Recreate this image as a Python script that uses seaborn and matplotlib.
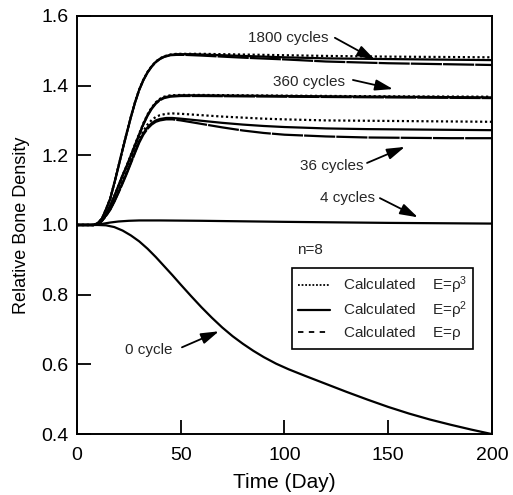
import numpy as np
import pandas as pd
import seaborn as sns
import matplotlib.pyplot as plt
from matplotlib.lines import Line2D

# ---------------- data ----------------
t_zero = [0, 10, 14, 18, 22, 26, 30, 34, 38, 42, 46, 50, 55, 60, 65, 70, 75, 80, 85, 90,
          96, 102, 110, 120, 130, 140, 150, 160, 170, 180, 190, 200]
zero_cycle = [1.0, 1.0, 0.999, 0.994, 0.984, 0.97, 0.953, 0.932, 0.908, 0.882, 0.856,
              0.829, 0.796, 0.764, 0.734, 0.706, 0.681, 0.659, 0.639, 0.621, 0.602, 0.586,
              0.567, 0.544, 0.521, 0.499, 0.478, 0.459, 0.442, 0.427, 0.413, 0.40]

t_four = [0, 8, 12, 16, 20, 25, 30, 40, 60, 100, 150, 200]
four_cycles = [1.0, 1.0, 1.003, 1.007, 1.010, 1.012, 1.013, 1.013, 1.012, 1.009, 1.006, 1.004]

t_36 = [0, 8, 10, 12, 14, 16, 18, 20, 22, 24, 26, 28, 30, 32, 34, 36, 38, 40, 43, 46, 50,
        60, 70, 80, 90, 100, 120, 140, 160, 180, 200]
c36_rho3 = [1.0, 1.0, 1.003, 1.012, 1.027, 1.045, 1.069, 1.096, 1.125, 1.154, 1.185, 1.216,
            1.246, 1.27, 1.288, 1.301, 1.310, 1.315, 1.319, 1.320, 1.319, 1.315, 1.311,
            1.308, 1.305, 1.303, 1.300, 1.299, 1.298, 1.297, 1.296]
c36_rho2 = [1.0, 1.0, 1.003, 1.012, 1.027, 1.045, 1.068, 1.094, 1.122, 1.150, 1.180, 1.210,
            1.240, 1.263, 1.280, 1.292, 1.300, 1.304, 1.307, 1.307, 1.305, 1.299, 1.293,
            1.288, 1.284, 1.281, 1.277, 1.275, 1.274, 1.273, 1.272]
c36_rho1 = [1.0, 1.0, 1.003, 1.011, 1.026, 1.043, 1.066, 1.092, 1.119, 1.147, 1.177, 1.207,
            1.236, 1.259, 1.276, 1.288, 1.296, 1.300, 1.303, 1.303, 1.300, 1.290, 1.280,
            1.271, 1.264, 1.259, 1.254, 1.251, 1.250, 1.249, 1.249]

t_360 = [0, 8, 10, 12, 14, 16, 18, 20, 22, 24, 26, 28, 30, 32, 34, 36, 38, 40, 42, 45, 50,
         60, 80, 100, 150, 200]
c360_rho3 = [1.0, 1.0, 1.003, 1.012, 1.030, 1.055, 1.083, 1.113, 1.143, 1.171, 1.201, 1.232,
             1.262, 1.292, 1.317, 1.337, 1.352, 1.362, 1.368, 1.372, 1.373, 1.373, 1.372,
             1.371, 1.369, 1.368]
c360_rho2 = [1.0, 1.0, 1.003, 1.012, 1.030, 1.055, 1.083, 1.113, 1.143, 1.170, 1.200, 1.230,
             1.260, 1.290, 1.315, 1.335, 1.350, 1.360, 1.366, 1.370, 1.372, 1.372, 1.371,
             1.370, 1.368, 1.366]
c360_rho1 = [1.0, 1.0, 1.003, 1.012, 1.029, 1.054, 1.082, 1.111, 1.141, 1.168, 1.198, 1.228,
             1.258, 1.288, 1.313, 1.333, 1.348, 1.358, 1.364, 1.368, 1.370, 1.370, 1.369,
             1.368, 1.366, 1.364]

t_1800 = [0, 8, 10, 12, 14, 16, 18, 20, 22, 24, 26, 28, 30, 32, 34, 36, 38, 40, 42, 45, 48,
          52, 56, 60, 70, 80, 100, 120, 150, 200]
c1800_rho3 = [1.0, 1.0, 1.005, 1.018, 1.045, 1.076, 1.121, 1.169, 1.218, 1.265, 1.311, 1.353,
              1.389, 1.417, 1.439, 1.456, 1.469, 1.478, 1.484, 1.489, 1.491, 1.491, 1.491,
              1.491, 1.490, 1.489, 1.487, 1.485, 1.483, 1.481]
c1800_rho2 = [1.0, 1.0, 1.005, 1.018, 1.045, 1.075, 1.120, 1.168, 1.217, 1.264, 1.310, 1.352,
              1.388, 1.416, 1.438, 1.455, 1.468, 1.477, 1.483, 1.488, 1.490, 1.490, 1.490,
              1.489, 1.487, 1.485, 1.481, 1.478, 1.476, 1.473]
c1800_rho1 = [1.0, 1.0, 1.005, 1.018, 1.044, 1.074, 1.119, 1.167, 1.216, 1.263, 1.309, 1.351,
              1.387, 1.415, 1.437, 1.454, 1.467, 1.476, 1.482, 1.487, 1.488, 1.488, 1.487,
              1.486, 1.483, 1.480, 1.475, 1.469, 1.464, 1.459]

legend_labels = ["Calculated", "Calculated", "Calculated"]
legend_models = [r"E=$\mathregular{\rho^3}$", r"E=$\mathregular{\rho^2}$", r"E=$\mathregular{\rho}$"]

x_ticks = [0, 50, 100, 150, 200]
y_ticks = [0.4, 0.6, 0.8, 1.0, 1.2, 1.4, 1.6]

# ---------------- styling ----------------
sns.set_theme(style="white")
plt.rcParams["font.family"] = ["Liberation Sans", "DejaVu Sans"]
plt.rcParams["mathtext.fontset"] = "custom"
plt.rcParams["mathtext.rm"] = "Liberation Sans"
plt.rcParams["mathtext.it"] = "Liberation Sans"

DOT = (0, (1, 1.2))
SOLID = "-"
DASH = (0, (14, 0.5))

fig = plt.figure(figsize=(5.13, 4.95), dpi=100)
ax = fig.add_axes([0.150, 0.123, 0.809, 0.845])

curves = [
    (t_zero, zero_cycle, SOLID),
    (t_four, four_cycles, SOLID),
    (t_36, c36_rho3, DOT), (t_36, c36_rho2, SOLID), (t_36, c36_rho1, DASH),
    (t_360, c360_rho3, DOT), (t_360, c360_rho2, SOLID), (t_360, c360_rho1, DASH),
    (t_1800, c1800_rho3, DOT), (t_1800, c1800_rho2, SOLID), (t_1800, c1800_rho1, DASH),
]
for tt, vv, ls in curves:
    df = pd.DataFrame({"t": tt, "v": vv})
    sns.lineplot(data=df, x="t", y="v", ax=ax, color="black", lw=1.6,
                 linestyle=ls, estimator=None, sort=True)

ax.set_xlim(0, 200)
ax.set_ylim(0.4, 1.6)
ax.set_xticks(x_ticks)
ax.set_yticks(y_ticks)
ax.set_xticklabels([str(v) for v in x_ticks])
ax.set_yticklabels([f"{v:.1f}" for v in y_ticks])
ax.tick_params(axis="both", direction="in", length=10, width=1.3, labelsize=14,
               colors="black", bottom=True, left=True, top=False, right=False)
ax.tick_params(axis="x", pad=9)
ax.tick_params(axis="y", pad=6)
for s in ax.spines.values():
    s.set_color("black")
    s.set_linewidth(1.4)
ax.set_xlabel("Time (Day)", fontsize=15, color="black", labelpad=7)
ax.set_ylabel("Relative Bone Density", fontsize=13, color="black", labelpad=8)

# legend
handles = [Line2D([], [], color="black", lw=1.3, linestyle=(0, (1, 1))),
           Line2D([], [], color="black", lw=1.6, linestyle="-"),
           Line2D([], [], color="black", lw=1.3, linestyle=(0, (3, 3)))]
labels = [f"{a}    {b}" for a, b in zip(legend_labels, legend_models)]
leg = ax.legend(handles, labels, loc="upper left", bbox_to_anchor=(0.518, 0.397),
                fontsize=11, handlelength=2.1, handletextpad=0.8, labelspacing=0.22,
                borderpad=0.42, borderaxespad=0, frameon=True, fancybox=False,
                framealpha=1, edgecolor="black")
leg.get_frame().set_linewidth(1.2)

# annotations
arrow = dict(arrowstyle="-|>,head_length=0.9,head_width=0.28", color="black", lw=1.3,
             shrinkA=0, shrinkB=0)
fs = 11
ax.text(101.7, 1.537, "1800 cycles", fontsize=fs, ha="center", va="center")
ax.annotate("", xy=(143.6, 1.474), xytext=(124.3, 1.537), arrowprops=arrow)
ax.text(111.8, 1.410, "360 cycles", fontsize=fs, ha="center", va="center")
ax.annotate("", xy=(152.3, 1.390), xytext=(133.0, 1.416), arrowprops=arrow)
ax.text(122.7, 1.169, "36 cycles", fontsize=fs, ha="center", va="center")
ax.annotate("", xy=(158.0, 1.224), xytext=(139.8, 1.178), arrowprops=arrow)
ax.text(130.4, 1.077, "4 cycles", fontsize=fs, ha="center", va="center")
ax.annotate("", xy=(164.3, 1.022), xytext=(146.0, 1.077), arrowprops=arrow)
ax.text(34.7, 0.640, "0 cycle", fontsize=fs, ha="center", va="center")
ax.annotate("", xy=(68.4, 0.695), xytext=(50.6, 0.649), arrowprops=arrow)
ax.text(112.3, 0.928, "n=8", fontsize=fs, ha="center", va="center")

fig.savefig("out.png", dpi=100)
